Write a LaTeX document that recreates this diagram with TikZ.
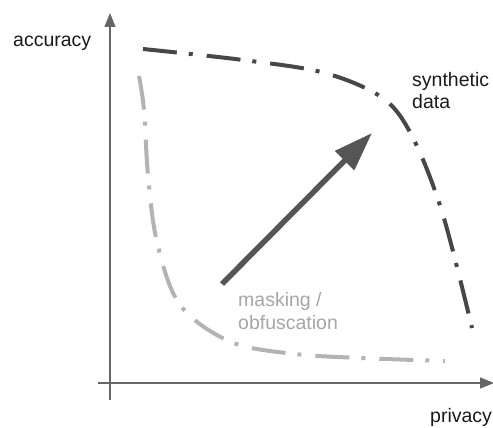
\documentclass[tikz,border=0pt]{standalone}
\usepackage{fontspec}
\setmainfont{Liberation Sans}
\usetikzlibrary{arrows.meta}
\definecolor{axisgray}{HTML}{666666}
\definecolor{darkcurve}{HTML}{474747}
\definecolor{lightcurve}{HTML}{B3B3B3}
\definecolor{arrowgray}{HTML}{555555}
\definecolor{lighttext}{HTML}{A6A6A6}
\definecolor{darktext}{HTML}{1A1A1A}
\begin{document}
\begin{tikzpicture}[x=1pt,y=-1pt,
  axisline/.style={draw=axisgray,line width=1.3pt,-{Triangle[length=14pt,width=11pt]}},
  curvedash/.style={line width=4pt,dash pattern=on 34pt off 12pt on 4pt off 14pt},
  label/.style={inner sep=0pt,anchor=base west,font=\fontsize{19.5}{22.5}\selectfont},
  bigarrow/.style={draw=arrowgray,fill=arrowgray,line width=5.5pt,-{Triangle[length=39pt,width=26pt]}}]
\useasboundingbox (0,0) rectangle (493,428);
% axes
\coordinate (ybot) at (110,400);
\coordinate (ytop) at (110,13);
\coordinate (xleft) at (98,383);
\coordinate (xright) at (494,383);
\draw[axisline] (ybot) -- (ytop);
\draw[axisline] (xleft) -- (xright);
% curves
\draw[curvedash,draw=darkcurve] plot[smooth,tension=0.55] coordinates
  {(143,49) (243,60) (325,73) (384,99) (414,140) (443,215) (472,328)};
\draw[curvedash,draw=lightcurve] plot[smooth,tension=0.55] coordinates
  {(139,76) (144,110) (148,175) (157,242) (180,305) (231,342) (295,354) (361,358) (445,361)};
% big arrow
\coordinate (atail) at (222,284);
\coordinate (ahead) at (372,133);
\draw[bigarrow] (atail) -- (ahead);
% labels
\node[label,text=darktext] (acc) at (13,47) {accuracy};
\node[label,text=darktext] (syn1) at (412,87) {synthetic};
\node[label,text=darktext] (syn2) at (412,109) {data};
\node[label,text=lighttext] (mask1) at (238,306) {masking /};
\node[label,text=lighttext] (mask2) at (238,329) {obfuscation};
\node[label,text=darktext] (priv) at (430,422) {privacy};
\end{tikzpicture}
\end{document}
